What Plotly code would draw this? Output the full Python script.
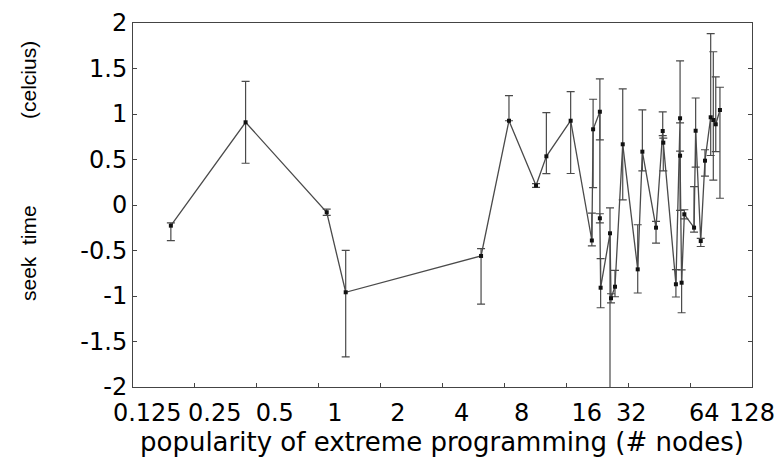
import plotly.graph_objects as go

# ---- data ----
nodes = [0.191, 0.441, 1.094, 1.353, 6.16, 8.42, 11.4, 12.8, 16.8, 21.3, 21.6, 23.3,
         23.3, 23.5, 26.1, 26.4, 27.6, 30.1, 35.6, 37.5, 43.7, 47.1, 47.4, 54.6,
         57.2, 57.2, 58.2, 60.0, 66.9, 68.1, 72.1, 75.6, 80.6, 83.0, 85.3, 89.4]
seek = [-0.227, 0.909, -0.080, -0.959, -0.560, 0.926, 0.214, 0.535, 0.926, -0.39, 0.832, 1.025,
        -0.146, -0.909, -0.311, -1.025, -0.898, 0.667, -0.707, 0.586, -0.249, 0.813, 0.685, -0.871,
        0.953, 0.542, -0.854, -0.102, -0.249, 0.816, -0.396, 0.487, 0.964, 0.934, 0.887, 1.044]
err_plus = [0.03, 0.45, 0.035, 0.46, 0.08, 0.275, 0.02, 0.48, 0.32, 0.30, 0.33, 0.36,
            0.05, 0.32, 0.28, 0.05, 0.18, 0.61, 0.49, 0.46, 0.07, 0.21, 0.05, 0.16,
            0.63, 0.05, 0.14, 0.05, 0.45, 0.36, 0.03, 0.12, 0.92, 0.75, 0.52, 0.25]
err_minus = [0.165, 0.45, 0.035, 0.71, 0.53, 0.0, 0.02, 0.19, 0.58, 0.06, 0.64, 0.31,
             0.05, 0.22, 1.9, 0.05, 0.11, 0.61, 0.26, 0.21, 0.17, 0.05, 0.31, 0.14,
             0.05, 0.6, 0.33, 0.05, 0.05, 0.40, 0.06, 0.17, 0.42, 0.66, 0.3, 0.97]

x_tick_labels = ["0.125", "0.25", "0.5", "1", "2", "4", "8", "16", "32", "64", "128"]
x_label_log2 = [-2.77, -1.68, -0.71, 0.26, 1.28, 2.31, 3.28, 4.33, 5.05, 6.23, 7.0]
x_mark_values = [0.25, 0.5, 1, 2, 4, 8, 16, 32, 64]
y_tick_values = [-2, -1.5, -1, -0.5, 0, 0.5, 1, 1.5, 2]
y_tick_labels = ["-2", "-1.5", "-1", "-0.5", "0", "0.5", "1", "1.5", "2"]

fig = go.Figure()
fig.add_trace(go.Scatter(
    x=nodes, y=seek, mode="lines+markers",
    line=dict(color="#4a4a4a", width=1.3),
    marker=dict(symbol="square", size=4, color="#111111"),
    error_y=dict(type="data", symmetric=False, array=err_plus, arrayminus=err_minus,
                 color="#4a4a4a", thickness=1.2, width=4),
    showlegend=False,
))

tick_font = dict(family="DejaVu Sans", size=24, color="#000000")

fig.update_layout(
    width=784, height=458,
    margin=dict(l=133, r=32, t=23, b=71, autoexpand=False),
    paper_bgcolor="white", plot_bgcolor="white",
    xaxis=dict(
        type="log", range=[-0.90309, 2.10721], automargin=False,
        tickmode="array", tickvals=[2 ** p for p in x_label_log2], ticktext=x_tick_labels,
        tickangle=0, ticks="", showgrid=False, zeroline=False, ticklabelstandoff=4,
        showline=True, linecolor="#444444", linewidth=1, mirror=True,
        tickfont=tick_font,
        minor=dict(tickmode="array", tickvals=x_mark_values, ticks="inside",
                   ticklen=4, tickcolor="#444444", showgrid=False),
    ),
    yaxis=dict(
        range=[-2, 2], automargin=False, tickmode="array", tickvals=y_tick_values,
        ticktext=y_tick_labels,
        ticks="inside", ticklen=4, tickcolor="#444444", showgrid=False, zeroline=False,
        showline=True, linecolor="#444444", linewidth=1, mirror="ticks",
        tickfont=tick_font,
    ),
    annotations=[
        dict(text="popularity of extreme programming (# nodes)", xref="paper", yref="paper",
             x=(442 - 133) / 619, y=(387 - 442) / 364, showarrow=False,
             xanchor="center", yanchor="middle",
             font=dict(family="DejaVu Sans", size=26, color="#000000")),
        dict(text="seek  time", xref="paper", yref="paper", x=(28 - 133) / 619, y=(387 - 253) / 364,
             textangle=-90, showarrow=False, xanchor="center", yanchor="middle",
             font=dict(family="Liberation Sans", size=21, color="#000000")),
        dict(text="(celcius)", xref="paper", yref="paper", x=(28 - 133) / 619, y=(387 - 80) / 364,
             textangle=-90, showarrow=False, xanchor="center", yanchor="middle",
             font=dict(family="Liberation Sans", size=21, color="#000000")),
    ],
)

fig.write_html("out.html", config={"displayModeBar": False},
               post_script="document.body.style.margin='0';document.body.style.padding='0';")
